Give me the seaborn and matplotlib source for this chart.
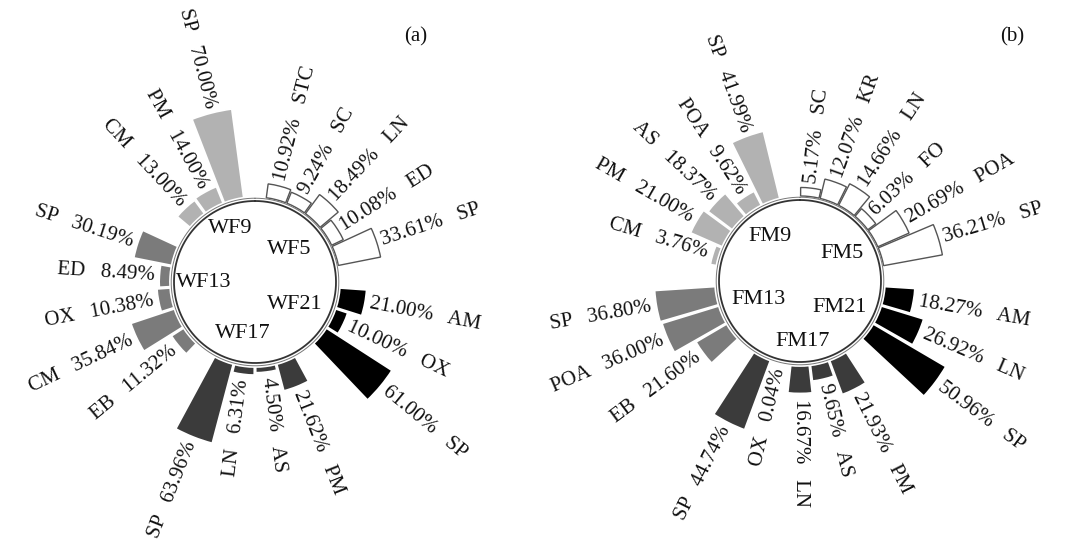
import numpy as np
import pandas as pd
import seaborn as sns
import matplotlib
matplotlib.use('Agg')
import matplotlib.pyplot as plt

# ---- data, panel (a) ----
a_groups = ['WF5', 'WF21', 'WF17', 'WF13', 'WF9']
a_group = ['WF5'] * 5 + ['WF21'] * 3 + ['WF17'] * 4 + ['WF13'] * 5 + ['WF9'] * 3
a_name = ['STC', 'SC', 'LN', 'ED', 'SP',
          'AM', 'OX', 'SP',
          'PM', 'AS', 'LN', 'SP',
          'EB', 'CM', 'OX', 'ED', 'SP',
          'CM', 'PM', 'SP']
a_value = [10.92, 9.24, 18.49, 10.08, 33.61,
           21.00, 10.00, 61.00,
           21.62, 4.50, 6.31, 63.96,
           11.32, 35.84, 10.38, 8.49, 30.19,
           13.00, 14.00, 70.00]

# ---- data, panel (b) ----
b_groups = ['FM5', 'FM21', 'FM17', 'FM13', 'FM9']
b_group = ['FM5'] * 6 + ['FM21'] * 3 + ['FM17'] * 5 + ['FM13'] * 3 + ['FM9'] * 5
b_name = ['SC', 'KR', 'LN', 'FO', 'POA', 'SP',
          'AM', 'LN', 'SP',
          'PM', 'AS', 'LN', 'OX', 'SP',
          'EB', 'POA', 'SP',
          'CM', 'PM', 'AS', 'POA', 'SP']
b_value = [5.17, 12.07, 14.66, 6.03, 20.69, 36.21,
           18.27, 26.92, 50.96,
           21.93, 9.65, 16.67, 0.04, 44.74,
           21.60, 36.00, 36.80,
           3.76, 21.00, 18.37, 9.62, 41.99]

group_colors = ['white', 'black', '#3b3b3b', '#7b7b7b', '#b2b2b2']
group_edges = ['#555555', 'white', 'white', 'white', 'white']

W, H = 1066, 553

sns.set_style('white')
plt.rcParams['font.family'] = ['Liberation Serif', 'DejaVu Serif']

fig = plt.figure(figsize=(W / 100, H / 100), dpi=100)


def draw_panel(df, groups, cx, cy, k, first_slot, label_pos, tag, tag_xy):
    # k = pixels per percent
    R = 200
    ax = fig.add_axes([(cx - R) / W, (H - cy - R) / H, 2 * R / W, 2 * R / H],
                      projection='polar')
    ax.set_theta_zero_location('N')
    ax.set_theta_direction(-1)
    ax.set_ylim(0, R / k)
    ax.set_axis_off()

    n_slots = len(df) + len(groups)
    step = 360 / n_slots
    base = 85 / k

    # slot positions: one empty slot between groups
    pos = []
    s = first_slot
    for g in groups:
        n = (df['group'] == g).sum()
        pos += [s + j for j in range(n)]
        s += n + 1
    df = df.assign(angle=np.array(pos) * step)

    circ = np.linspace(0, 2 * np.pi, 500)
    ax.plot(circ, np.full(500, 81 / k), color='#333333', lw=1.3)
    ax.plot(circ, np.full(500, 83.8 / k), color='#777777', lw=0.7)

    for gi, g in enumerate(groups):
        sub = df[df['group'] == g]
        ax.bar(np.deg2rad(sub['angle']), sub['value'], width=np.deg2rad(step * 0.94),
               bottom=base, color=group_colors[gi], edgecolor=group_edges[gi],
               linewidth=1.0 if gi == 0 else 1.3)

    for _, row in df.iterrows():
        a = row['angle']
        r = base + row['value'] + 5 / k
        if a < 180.5:
            txt = f"{row['value']:.2f}%   {row['name']}"
            rot, ha = 90 - a, 'left'
        else:
            txt = f"{row['name']}   {row['value']:.2f}%"
            rot, ha = 270 - a, 'right'
        ax.text(np.deg2rad(a), r, txt, rotation=rot, rotation_mode='anchor',
                ha=ha, va='center', fontsize=15, color='#111111')

    for g, (rp, ang) in zip(groups, label_pos):
        ax.text(np.deg2rad(ang), rp / k, g, ha='center', va='center',
                fontsize=16, color='#111111')

    fig.text(tag_xy[0] / W, 1 - tag_xy[1] / H, tag, ha='center', va='center',
             fontsize=15, color='#111111')


df_a = pd.DataFrame({'group': a_group, 'name': a_name, 'value': a_value})
df_b = pd.DataFrame({'group': b_group, 'name': b_name, 'value': b_value})

draw_panel(df_a, a_groups, 255, 282, 1.28, 1.0,
           [(47, 47), (46, 119), (53, 193), (51, 269), (59, 335)],
           '(a)', (416, 37))
draw_panel(df_b, b_groups, 800, 281, 1.65, 0.5,
           [(50, 57), (48, 124), (61, 178), (45, 246), (54, 326)],
           '(b)', (1012, 37))

fig.savefig('out.png', dpi=100)
